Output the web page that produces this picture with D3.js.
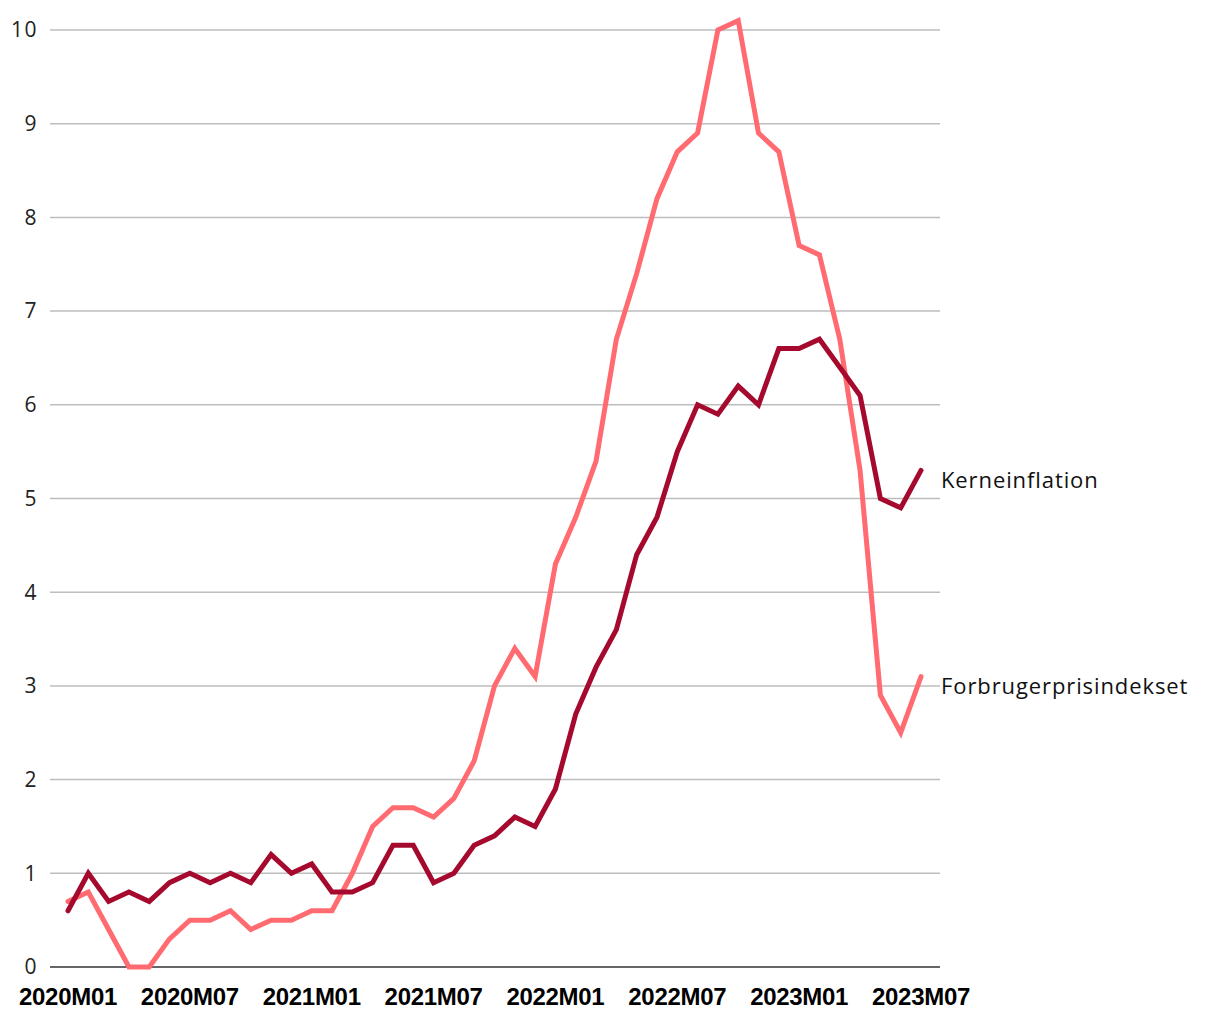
<!DOCTYPE html>
<html><head><meta charset="utf-8">
<script src="https://cdn.jsdelivr.net/npm/d3@7"></script>
<style>body{margin:0;background:#fff}svg{display:block}</style>
</head><body>
<svg id="c" width="1220" height="1020"></svg>
<script>
const months = [];
for (const y of [2020,2021,2022,2023]) for (let m=1;m<=12;m++){ if(y===2023&&m>7)break; months.push(y+"M"+String(m).padStart(2,"0")); }
const tickLabels = ["2020M01","2020M07","2021M01","2021M07","2022M01","2022M07","2023M01","2023M07"];
const yTicks = [0,1,2,3,4,5,6,7,8,9,10];
const forbruger = [0.7,0.8,0.4,0.0,0.0,0.3,0.5,0.5,0.6,0.4,0.5,0.5,
                   0.6,0.6,1.0,1.5,1.7,1.7,1.6,1.8,2.2,3.0,3.4,3.1,
                   4.3,4.8,5.4,6.7,7.4,8.2,8.7,8.9,10.0,10.1,8.9,8.7,
                   7.7,7.6,6.7,5.3,2.9,2.5,3.1];
const kerne = [0.6,1.0,0.7,0.8,0.7,0.9,1.0,0.9,1.0,0.9,1.2,1.0,
               1.1,0.8,0.8,0.9,1.3,1.3,0.9,1.0,1.3,1.4,1.6,1.5,
               1.9,2.7,3.2,3.6,4.4,4.8,5.5,6.0,5.9,6.2,6.0,6.6,
               6.6,6.7,6.4,6.1,5.0,4.9,5.3];
const seriesNames = ["Forbrugerprisindekset","Kerneinflation"];
const colors = ["#ff6b70","#a50a2e"];

const svg = d3.select("#c");
const x = d3.scalePoint().domain(months).range([68,921]);
const y = d3.scaleLinear().domain([0,10]).range([967,30]);

svg.append("g").selectAll("line").data(yTicks.filter(d=>d>0)).join("line")
  .attr("x1",50).attr("x2",940).attr("y1",d=>y(d)).attr("y2",d=>y(d))
  .attr("stroke","#bdbdbd").attr("stroke-width",1.5);
svg.append("line").attr("x1",50).attr("x2",940).attr("y1",y(0)).attr("y2",y(0))
  .attr("stroke","#333").attr("stroke-width",1.5);

svg.append("g").selectAll("text").data(yTicks).join("text")
  .attr("x",38).attr("y",d=>y(d)).attr("dy","0.35em").attr("text-anchor","end")
  .attr("font-family","Open Sans").attr("font-size",21).attr("letter-spacing",1.5).attr("fill","#222")
  .text(d=>d);

svg.append("g").selectAll("text").data(tickLabels).join("text")
  .attr("x",d=>x(d)).attr("y",1005).attr("text-anchor","middle")
  .attr("font-family","Liberation Sans, Arial").attr("font-size",24).attr("font-weight","bold")
  .attr("letter-spacing",-0.3).attr("fill","#000").text(d=>d);

const line = d3.line().x((d,i)=>x(months[i])).y(d=>y(d));
[forbruger,kerne].forEach((s,k)=>{
  svg.append("path").datum(s).attr("d",line).attr("fill","none")
    .attr("stroke",colors[k]).attr("stroke-width",5)
    .attr("stroke-linejoin","miter").attr("stroke-linecap","round");
  svg.append("text").attr("x",941).attr("y",y(s[s.length-1])+10).attr("dy","0.35em")
    .attr("font-family","Open Sans").attr("font-size",22).attr("letter-spacing",0.9).attr("fill","#111")
    .text(seriesNames[k]);
});
</script>
</body></html>
